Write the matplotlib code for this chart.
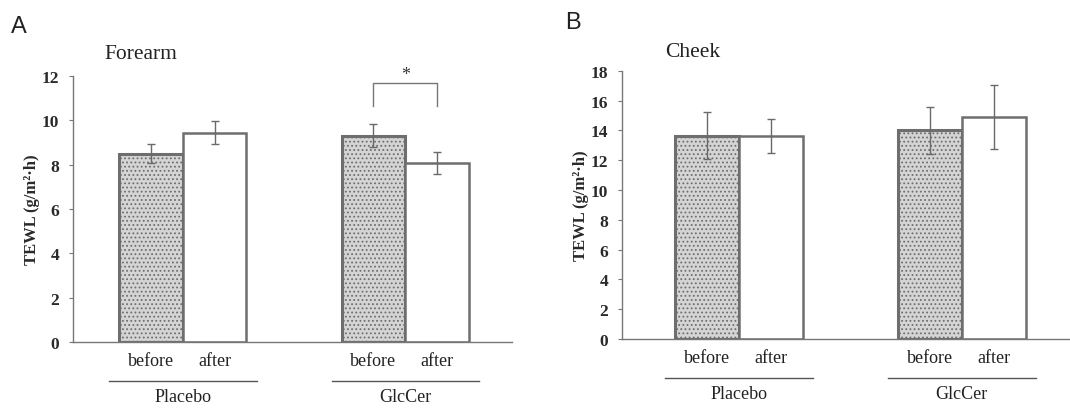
import matplotlib
matplotlib.use("Agg")
import matplotlib.pyplot as plt
from matplotlib.transforms import blended_transform_factory

plt.rcParams['font.family'] = ['Liberation Serif', 'DejaVu Serif']
plt.rcParams['hatch.color'] = '#8a8a8a'
plt.rcParams['hatch.linewidth'] = 0.8

groups = ["Placebo", "GlcCer"]
times = ["before", "after"]

forearm_mean = {"before": [8.5, 9.3], "after": [9.45, 8.07]}
forearm_se = {"before": [0.43, 0.52], "after": [0.52, 0.5]}
cheek_mean = {"before": [13.65, 14.0], "after": [13.65, 14.9]}
cheek_se = {"before": [1.6, 1.57], "after": [1.15, 2.15]}

forearm_ticks = [0, 2, 4, 6, 8, 10, 12]
cheek_ticks = [0, 2, 4, 6, 8, 10, 12, 14, 16, 18]

edge = '#6e6e6e'
fig = plt.figure(figsize=(10.7, 4.1), dpi=100)

def panel(rect, mean, se, ticks, centers, xmax, letter, letter_xy, title, title_xy, sig=None):
    ax = fig.add_axes(rect)
    w = 1.0
    for gi, c in enumerate(centers):
        xb = c - w / 2
        xa = c + w / 2
        ax.bar(xb, mean["before"][gi], width=w, facecolor='#d4d4d4', edgecolor=edge,
               linewidth=2.2, hatch='....', zorder=2)
        ax.bar(xa, mean["after"][gi], width=w, facecolor='white', edgecolor=edge,
               linewidth=1.8, zorder=2)
        ax.errorbar([xb, xa], [mean["before"][gi], mean["after"][gi]],
                    yerr=[se["before"][gi], se["after"][gi]], fmt='none',
                    ecolor='#6a6a6a', elinewidth=1.0, capsize=3, capthick=1.0, zorder=3)
    ax.set_xlim(0, xmax)
    ax.set_ylim(ticks[0], ticks[-1])
    ax.set_yticks(ticks)
    ax.set_yticklabels([str(t) for t in ticks], fontsize=12.5, fontweight='bold', color='#2a2a2a')
    ax.set_xticks([])
    for s in ['top', 'right']:
        ax.spines[s].set_visible(False)
    ax.spines['left'].set_color('#777777')
    ax.spines['bottom'].set_color('#777777')
    ax.spines['left'].set_linewidth(1.0)
    ax.spines['bottom'].set_linewidth(1.0)
    ax.tick_params(axis='y', direction='out', length=3, color='#777777', pad=7)
    ax.set_ylabel('TEWL (g/m²·h)', fontsize=12, fontweight='bold',
                  color='#2a2a2a', labelpad=1)
    tr = blended_transform_factory(ax.transData, ax.transAxes)
    for gi, c in enumerate(centers):
        ax.text(c - 0.5, -0.07, times[0], transform=tr, ha='center', va='center',
                fontsize=13, color='#222222')
        ax.text(c + 0.5, -0.07, times[1], transform=tr, ha='center', va='center',
                fontsize=13, color='#222222')
        ax.plot([c - 1.16, c + 1.16], [-0.145, -0.145], transform=tr, color='#555555',
                lw=1.0, clip_on=False)
        ax.text(c, -0.205, groups[gi], transform=tr, ha='center', va='center',
                fontsize=13, color='#222222')
    fig.text(letter_xy[0], letter_xy[1], letter, fontsize=17, family='Liberation Sans',
             ha='center', va='center', color='#222222')
    fig.text(title_xy[0], title_xy[1], title, fontsize=15.5, ha='left', va='center',
             color='#222222')
    if sig is not None:
        x0, x1, ytop, ylow = sig
        ax.plot([x0, x0, x1, x1], [ylow, ytop, ytop, ylow], color='#777777', lw=1.0)
        ax.text((x0 + x1) / 2, ytop + 0.35, '*', ha='center', va='center', fontsize=13,
                color='#333333')
    return ax

centersA = [1.73, 5.23]
panel([0.0682, 0.1634, 0.4103, 0.6488], forearm_mean, forearm_se, forearm_ticks,
      centersA, 6.91, 'A', (0.018, 0.935), 'Forearm', (0.098, 0.866),
      sig=(centersA[1] - 0.5, centersA[1] + 0.5, 11.7, 10.65))
centersB = [1.83, 5.31]
panel([0.5813, 0.1707, 0.4187, 0.6541], cheek_mean, cheek_se, cheek_ticks,
      centersB, 7.0, 'B', (0.535, 0.945), 'Cheek', (0.622, 0.873))

fig.savefig('out.png', dpi=100, facecolor='white')
